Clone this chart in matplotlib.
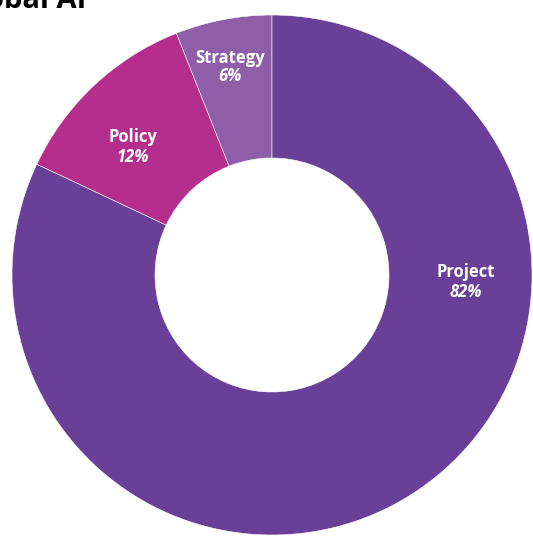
import numpy as np
import matplotlib.pyplot as plt

labels = ["Strategy", "Policy", "Project"]
shares = [6, 12, 82]
colors = ["#8e5fa8", "#b52e8e", "#6a3f98"]
pct_text = ["6%", "12%", "82%"]

fig = plt.figure(figsize=(5.33, 5.36), dpi=100)
fig.patch.set_facecolor("white")

# pie centre ~ (272, 275) px, radius ~260 px
ax = fig.add_axes([12/533, 1/536, 520/533, 520/536])
wedges, _ = ax.pie(shares, colors=colors, startangle=90, counterclock=True,
                   radius=1, wedgeprops=dict(width=0.55, edgecolor="white", linewidth=0.4))
for w in wedges:
    w.set_clip_on(False)
ax.set_xlim(-1, 1)
ax.set_ylim(-1, 1)
ax.set_aspect("equal")
ax.axis("off")

# label placement (data coords): name y, percent y
label_pos = [(-0.16, 0.835, 0.765), (-0.535, 0.53, 0.455), (0.745, 0.012, -0.065)]
for (x, y1, y2), lab, p in zip(label_pos, labels, pct_text):
    ax.text(x, y1, lab, ha="center", va="center", color="white",
            fontsize=12, fontweight="bold", family="Open Sans")
    ax.text(x, y2, p, ha="center", va="center", color="white",
            fontsize=12, fontweight="bold", style="italic", family="Open Sans")

# cropped title at the top edge
fig.text(86/533, 1 - 8/536, "Global AI", ha="right", va="baseline",
         fontsize=21, fontweight="bold", color="black", family="Open Sans")

fig.savefig("out.png", dpi=100)
